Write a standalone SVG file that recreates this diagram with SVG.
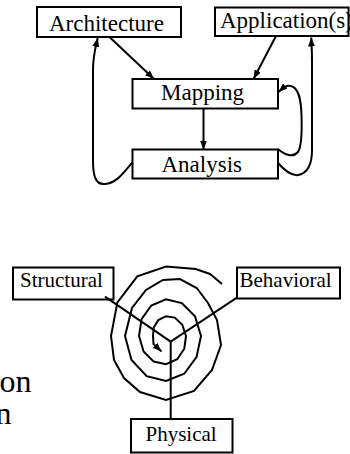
<svg xmlns="http://www.w3.org/2000/svg" width="350" height="454" viewBox="0 0 350 454">
<style>
.box{fill:#fff;stroke:#000;stroke-width:2}
.t{font-family:"Liberation Serif","Times New Roman",serif;fill:#000}
.t23{font-size:23px}
.t21{font-size:21px}
.c{fill:none;stroke:#000;stroke-width:2}
</style>
<defs>
<marker id="ah" markerUnits="userSpaceOnUse" markerWidth="9" markerHeight="7" refX="9" refY="3.5" orient="auto">
<path d="M0,0 L9,3.5 L0,7 z" fill="#000"/>
</marker>
</defs>
<rect width="350" height="454" fill="#fff"/>
<g id="node-architecture">
<rect class="box" x="37" y="7" width="144" height="30"/>
<text class="t t23" x="49" y="31">Architecture</text>
</g>
<g id="node-applications">
<rect class="box" x="215" y="7.5" width="133.5" height="28.5"/>
<text class="t t23" x="220" y="28">Application(s)</text>
</g>
<g id="node-mapping">
<rect class="box" x="132.5" y="79" width="145.5" height="29.5"/>
<text class="t t23" x="161" y="100">Mapping</text>
</g>
<g id="node-analysis">
<rect class="box" x="132.5" y="149.5" width="145.5" height="29"/>
<text class="t t23" x="161.5" y="172">Analysis</text>
</g>
<g id="node-structural">
<rect class="box" x="13" y="267.5" width="100.5" height="32"/>
<text class="t t21" x="20" y="287">Structural</text>
</g>
<g id="node-behavioral">
<rect class="box" x="237" y="267.5" width="103" height="31"/>
<text class="t t21" x="239.5" y="287">Behavioral</text>
</g>
<g id="node-physical">
<rect class="box" x="131" y="419" width="101.5" height="33.5"/>
<text class="t t21" x="145.5" y="441">Physical</text>
</g>
<g id="fragments">
<text class="t" font-size="32" x="-0.5" y="392">on</text>
<text class="t" font-size="32" x="-4.5" y="423.5">n</text>
</g>
<g id="connectors">
<line class="c" x1="110" y1="37.5" x2="154" y2="79" marker-end="url(#ah)"/>
<line class="c" x1="276" y1="36" x2="253.5" y2="79" marker-end="url(#ah)"/>
<line class="c" x1="203.5" y1="108.5" x2="203.5" y2="149.5" marker-end="url(#ah)"/>
<path class="c" d="M132.7,162.3 C125,170 118,183 105,184 C95,185 93,175 93,160 L93,70 C93,55 96,46 97.7,38" marker-end="url(#ah)"/>
<path class="c" d="M278,163 C285,171 292,176 298.3,175 C308,173 312,165 312,150 L312,60 C312,50 311.5,45 311.3,37.5" marker-end="url(#ah)"/>
<path class="c" d="M278.3,149.3 C285,155 293,158 298,152 C302,146 302,130 301.5,115 C301,100 299,88 291,86 C286,85 283,88 278.5,92" marker-end="url(#ah)"/>
<line class="c" x1="105" y1="296.7" x2="170.7" y2="341.7"/>
<line class="c" x1="237.3" y1="297.3" x2="170.7" y2="341.7"/>
<line class="c" x1="170.7" y1="341.7" x2="170.7" y2="419"/>
<polyline class="c" points="222,284 210,274 195.8,269 166,266.5 137.3,276.4 117.4,302.3 111,336 114,360 124,378 140,392 166,400 194,391 212,370 221,345 217,320 208,303 196.7,288 180,279 163,280 146,290 132,308 125,336 131.5,359.9 146.7,376.2 166,381 184.2,373.8 196.5,357.1 201,336 195,316.3 181.8,303.1 166,299.4 151.3,305.5 141.6,319.1 139,336 143.6,351.5 153.7,361.6 166,364.2 177.2,359.2 184.3,348.7 186,336 182.3,324.7 174.8,317.6 166,316.2 158.3,320.1 153.7,327.5 153,336 153.5,344 161.5,351.5" marker-end="url(#ah)"/>
</g>
</svg>
